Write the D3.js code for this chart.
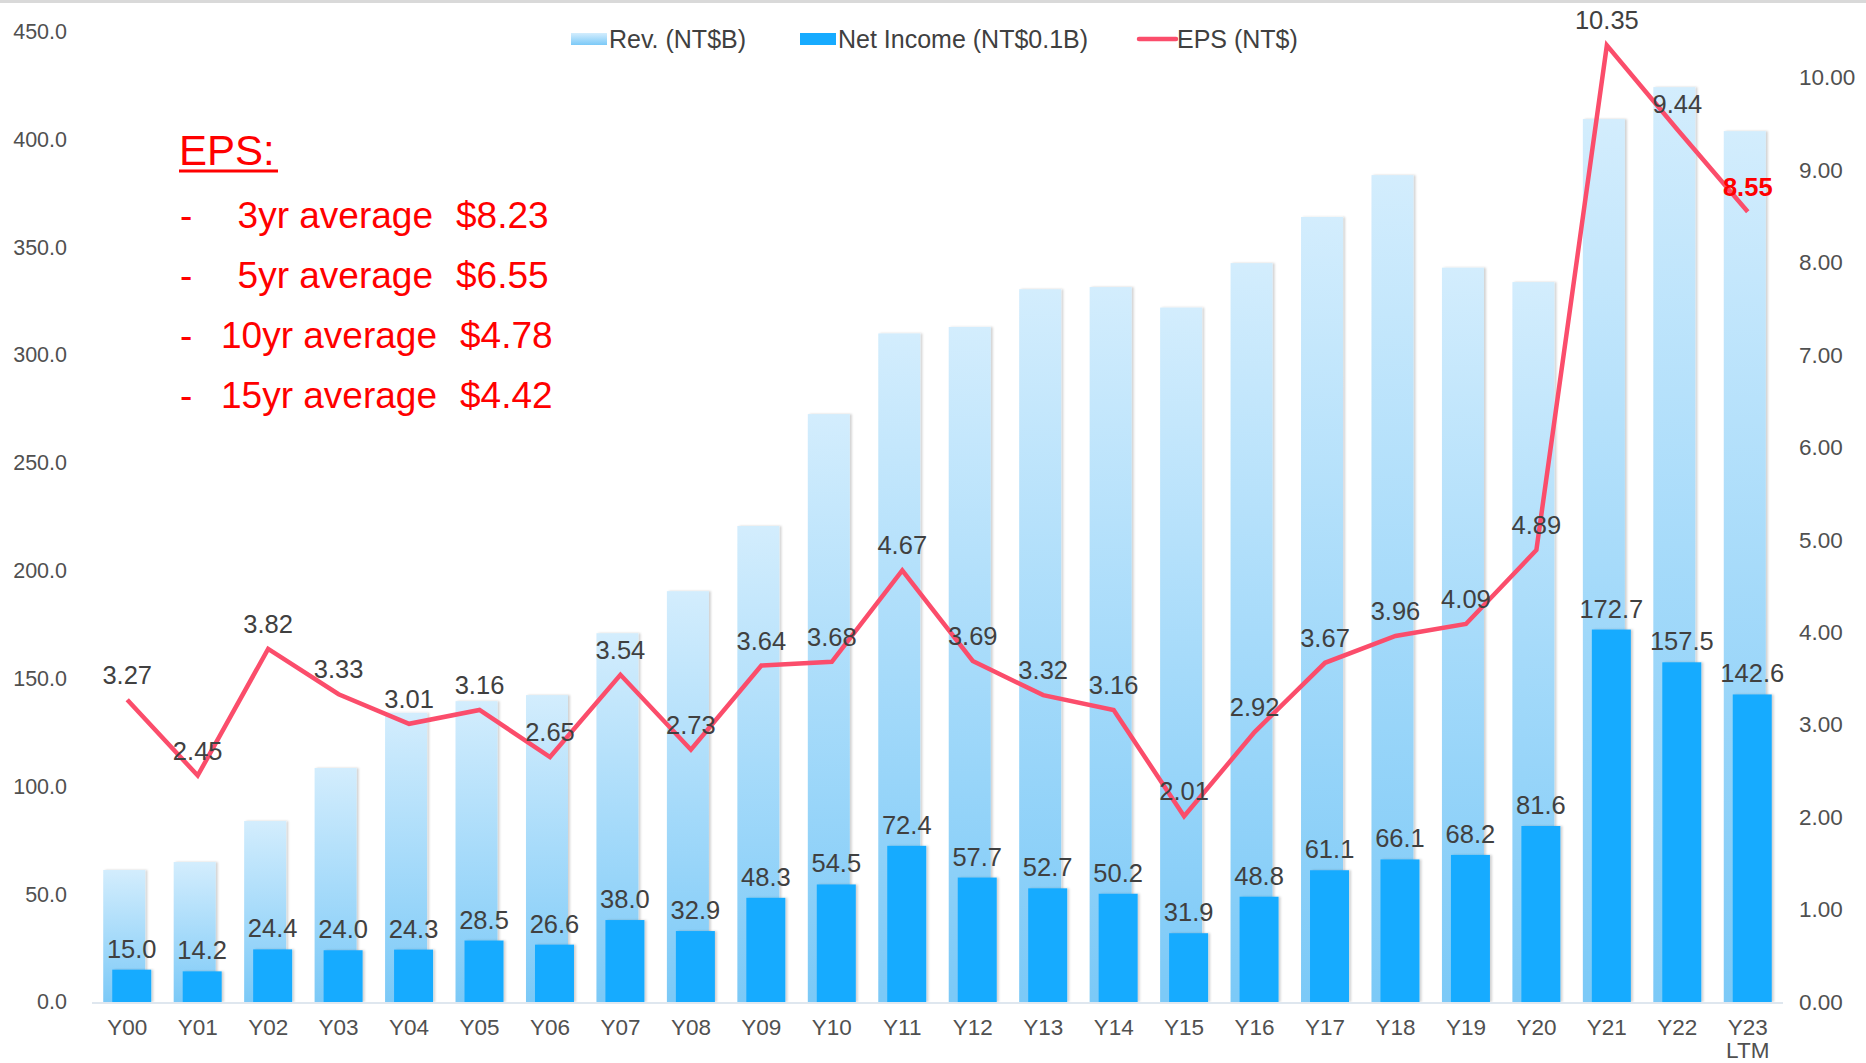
<!DOCTYPE html>
<html>
<head>
<meta charset="utf-8">
<script src="https://cdn.jsdelivr.net/npm/d3@7"></script>
<style>
  html, body { margin: 0; padding: 0; background: #ffffff; }
  svg { display: block; font-family: "Liberation Sans", Arial, Helvetica, sans-serif; }
</style>
</head>
<body>
<svg id="chart" width="1866" height="1063"></svg>
<script>
// ---------- data ----------
const categories = ["Y00","Y01","Y02","Y03","Y04","Y05","Y06","Y07","Y08","Y09","Y10","Y11",
                    "Y12","Y13","Y14","Y15","Y16","Y17","Y18","Y19","Y20","Y21","Y22","Y23\nLTM"];
const revenue = [61.2, 64.9, 83.9, 108.5, 134.1, 139.5, 142.3, 171.0, 190.5, 220.7, 272.6, 310.0,
                 313.0, 330.5, 331.5, 322.0, 342.6, 364.0, 383.4, 340.5, 333.8, 409.4, 424.2, 403.8];
const netIncome = [15.0, 14.2, 24.4, 24.0, 24.3, 28.5, 26.6, 38.0, 32.9, 48.3, 54.5, 72.4,
                   57.7, 52.7, 50.2, 31.9, 48.8, 61.1, 66.1, 68.2, 81.6, 172.7, 157.5, 142.6];
const eps = [3.27, 2.45, 3.82, 3.33, 3.01, 3.16, 2.65, 3.54, 2.73, 3.64, 3.68, 4.67,
             3.69, 3.32, 3.16, 2.01, 2.92, 3.67, 3.96, 4.09, 4.89, 10.35, 9.44, 8.55];
const leftTicks = [0, 50, 100, 150, 200, 250, 300, 350, 400, 450];
const rightTicks = [0, 1, 2, 3, 4, 5, 6, 7, 8, 9, 10];
const seriesNames = ["Rev. (NT$B)", "Net Income (NT$0.1B)", "EPS (NT$)"];
const avgTitle = "EPS:";
const avgLabels = ["3yr average", "5yr average", "10yr average", "15yr average"];
const avgValues = ["$8.23", "$6.55", "$4.78", "$4.42"];

// ---------- layout ----------
const W = 1866, H = 1063;
const plot = { left: 92, right: 1783, top: 31.5, bottom: 1002 };
const svg = d3.select("#chart");

const x = d3.scaleBand().domain(categories).range([plot.left, plot.right]).padding(0);
const yL = d3.scaleLinear().domain([0, 450]).range([plot.bottom, plot.top]);
const yR = d3.scaleLinear().domain([0, 10.5]).range([plot.bottom, plot.top]);
const cx = c => x(c) + x.bandwidth() / 2;

const defs = svg.append("defs");
const grad = defs.append("linearGradient").attr("id", "revGrad")
  .attr("x1", 0).attr("y1", 0).attr("x2", 0).attr("y2", 1);
grad.append("stop").attr("offset", "0%").attr("stop-color", "#d3edfd");
grad.append("stop").attr("offset", "100%").attr("stop-color", "#7bc9f7");
const sh = defs.append("filter").attr("id", "shadow")
  .attr("x", "-20%").attr("y", "-5%").attr("width", "140%").attr("height", "110%");
sh.append("feDropShadow").attr("dx", 2).attr("dy", 0).attr("stdDeviation", 1.2)
  .attr("flood-color", "#000").attr("flood-opacity", 0.18);

// top border
svg.append("line").attr("x1", 0).attr("x2", W).attr("y1", 1.5).attr("y2", 1.5)
  .attr("stroke", "#d9d9d9").attr("stroke-width", 3);

// revenue bars
svg.append("g").selectAll("rect").data(categories).join("rect")
  .attr("x", c => cx(c) - 24)
  .attr("width", 42)
  .attr("y", (c, i) => yL(revenue[i]))
  .attr("height", (c, i) => yL(0) - yL(revenue[i]))
  .attr("fill", "url(#revGrad)")
  .attr("filter", "url(#shadow)");

// net income bars
svg.append("g").selectAll("rect").data(categories).join("rect")
  .attr("x", c => cx(c) - 15)
  .attr("width", 39)
  .attr("y", (c, i) => yL(netIncome[i]))
  .attr("height", (c, i) => yL(0) - yL(netIncome[i]))
  .attr("fill", "#17abff")
  .attr("filter", "url(#shadow)");

// baseline
svg.append("line").attr("x1", plot.left).attr("x2", plot.right)
  .attr("y1", plot.bottom + 1).attr("y2", plot.bottom + 1)
  .attr("stroke", "#dfe7ef").attr("stroke-width", 2);

// EPS line
const line = d3.line().x((d, i) => cx(categories[i])).y(d => yR(d));
svg.append("path").datum(eps).attr("d", line)
  .attr("fill", "none").attr("stroke", "#fb4d6b").attr("stroke-width", 4.5)
  .attr("stroke-linejoin", "miter");

// NI labels
svg.append("g").selectAll("text").data(categories).join("text")
  .attr("x", c => cx(c) + 4.5)
  .attr("y", (c, i) => yL(netIncome[i]) - 12)
  .attr("text-anchor", "middle")
  .attr("font-size", 25.5).attr("fill", "#404040")
  .text((c, i) => netIncome[i].toFixed(1));

// EPS labels
svg.append("g").selectAll("text").data(categories).join("text")
  .attr("x", c => cx(c))
  .attr("y", (c, i) => yR(eps[i]) - 16)
  .attr("text-anchor", "middle")
  .attr("font-size", 25.5)
  .attr("font-weight", (c, i) => i === eps.length - 1 ? "bold" : "normal")
  .attr("fill", (c, i) => i === eps.length - 1 ? "#ff0000" : "#404040")
  .text((c, i) => eps[i].toFixed(2));

// left axis
const gL = svg.append("g").attr("transform", `translate(67,0)`)
  .call(d3.axisLeft(yL).tickValues(leftTicks).tickFormat(d3.format(".1f")).tickSize(0).tickPadding(0));
gL.select(".domain").remove();
gL.selectAll("text").attr("font-size", 21.5).attr("fill", "#505050")
  .attr("font-family", "Liberation Sans, Arial, sans-serif");

// right axis
const gR = svg.append("g").attr("transform", `translate(1799,0)`)
  .call(d3.axisRight(yR).tickValues(rightTicks).tickFormat(d3.format(".2f")).tickSize(0).tickPadding(0));
gR.select(".domain").remove();
gR.selectAll("text").attr("font-size", 22.5).attr("fill", "#505050")
  .attr("font-family", "Liberation Sans, Arial, sans-serif");

// x axis
const gX = svg.append("g").attr("transform", `translate(0,${plot.bottom})`)
  .call(d3.axisBottom(x).tickSize(0).tickPadding(0).tickFormat(""));
gX.select(".domain").remove();
gX.selectAll(".tick").each(function(c) {
  const t = d3.select(this).append("text")
    .attr("text-anchor", "middle").attr("font-size", 22.5).attr("fill", "#505050")
    .attr("font-family", "Liberation Sans, Arial, sans-serif");
  c.split("\n").forEach((s, k) => {
    t.append("tspan").attr("x", 0).attr("y", 33 + k * 23).text(s);
  });
});

// legend
const legend = svg.append("g").attr("font-size", 25).attr("fill", "#404040");
const legX = [571, 800, 1139];
legend.append("rect").attr("x", legX[0]).attr("y", 33).attr("width", 36).attr("height", 12).attr("fill", "url(#revGrad)");
legend.append("rect").attr("x", legX[1]).attr("y", 33).attr("width", 36).attr("height", 12).attr("fill", "#17abff");
legend.append("line").attr("x1", legX[2]).attr("x2", legX[2] + 37).attr("y1", 39).attr("y2", 39)
  .attr("stroke", "#fb4d6b").attr("stroke-width", 4.5).attr("stroke-linecap", "round");
seriesNames.forEach((s, i) => {
  legend.append("text").attr("x", legX[i] + 38).attr("y", 39).attr("dy", "0.35em").text(s);
});

// EPS averages annotation
const ann = svg.append("g").attr("fill", "#ff0000");
ann.append("text").attr("x", 179).attr("y", 165).attr("font-size", 42).text(avgTitle);
ann.append("line").attr("x1", 179).attr("x2", 278).attr("y1", 171).attr("y2", 171)
  .attr("stroke", "#ff0000").attr("stroke-width", 3);
avgLabels.forEach((s, i) => {
  const by = 228 + i * 60;
  const shift = i >= 2 ? 4 : 0;
  ann.append("text").attr("x", 180).attr("y", by).attr("font-size", 37).text("-");
  ann.append("text").attr("x", 433 + shift).attr("y", by).attr("font-size", 37).attr("text-anchor", "end").text(s);
  ann.append("text").attr("x", 456 + shift).attr("y", by).attr("font-size", 37).text(avgValues[i]);
});
</script>
</body>
</html>
